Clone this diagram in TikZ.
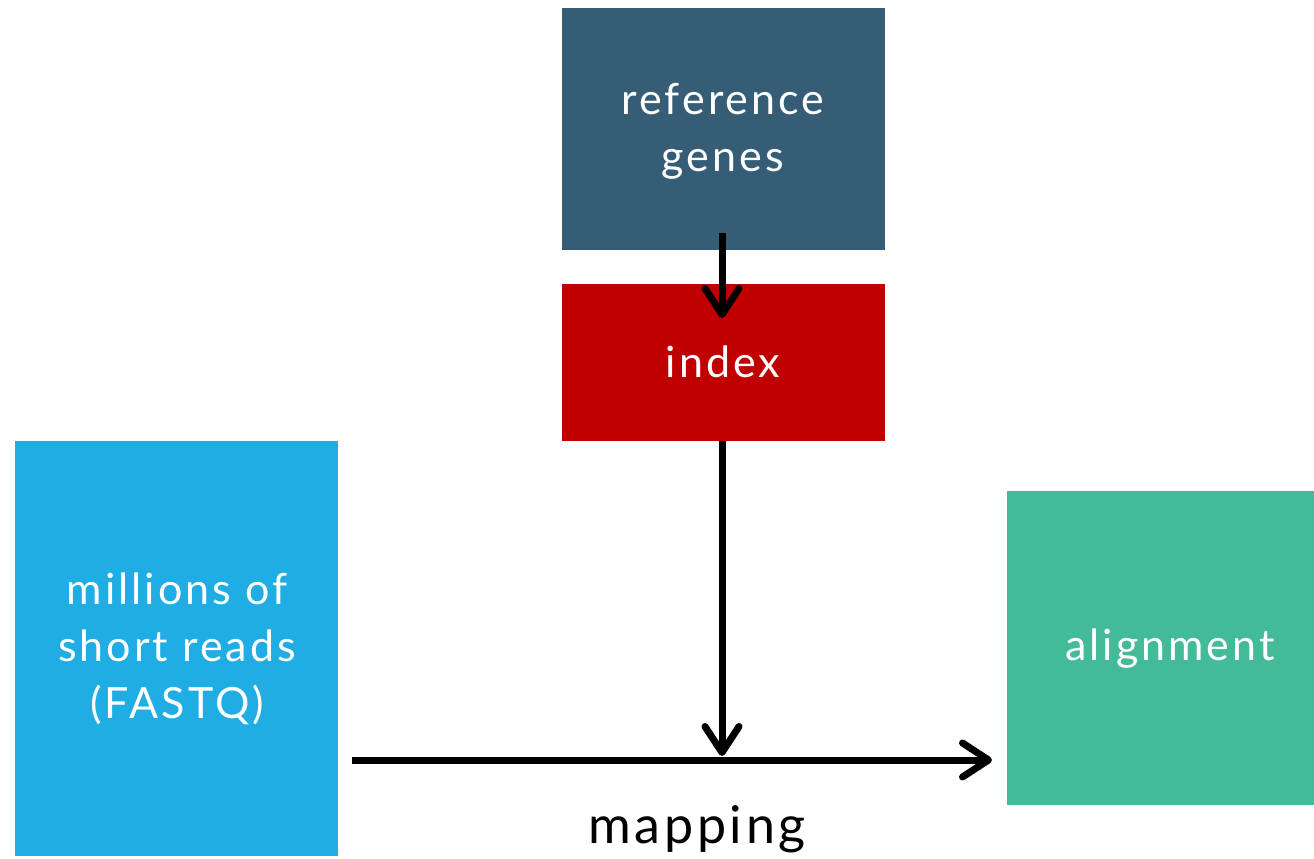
\documentclass[tikz,border=0pt]{standalone}
\usepackage{fontspec}
\setmainfont{Lato}[LetterSpace=7]
\usetikzlibrary{arrows.meta}
\definecolor{refc}{HTML}{365D76}
\definecolor{idxc}{HTML}{C00000}
\definecolor{readc}{HTML}{1FADE4}
\definecolor{alnc}{HTML}{43BA98}
\begin{document}
\begin{tikzpicture}[x=1pt,y=-1pt,
  boxtxt/.style={text=white,font=\fontsize{43}{57}\selectfont,align=center,inner sep=0pt},
  flow/.style={line width=7pt,-{Straight Barb[round,length=26pt,width=34pt,line width=7pt]}}]
\useasboundingbox (0,0) rectangle (1314,859);
\fill[refc] (562,8) rectangle (885,250);
\fill[idxc] (562,284) rectangle (885,441);
\fill[readc] (15,441) rectangle (338,856);
\fill[alnc] (1007,491) rectangle (1314,805);
\node[boxtxt] (ref) at (723,131) {reference\\genes};
\node[boxtxt] (idx) at (723,362) {index};
\node[boxtxt] (reads) at (177,649) {millions of\\short reads\\(FASTQ)};
\node[boxtxt] (aln) at (1170,649) {alignment};
\coordinate (refb) at (722,233);
\coordinate (idxt) at (722,318);
\coordinate (idxb) at (722,441);
\coordinate (join) at (722,756);
\coordinate (hs) at (352,760);
\coordinate (he) at (992,760);
\draw[flow] (refb) -- (idxt);
\draw[flow] (idxb) -- (join);
\draw[flow] (hs) -- (he);
\node[font=\fontsize{52}{60}\selectfont,inner sep=0pt] (map) at (697,829) {mapping};
\end{tikzpicture}
\end{document}
